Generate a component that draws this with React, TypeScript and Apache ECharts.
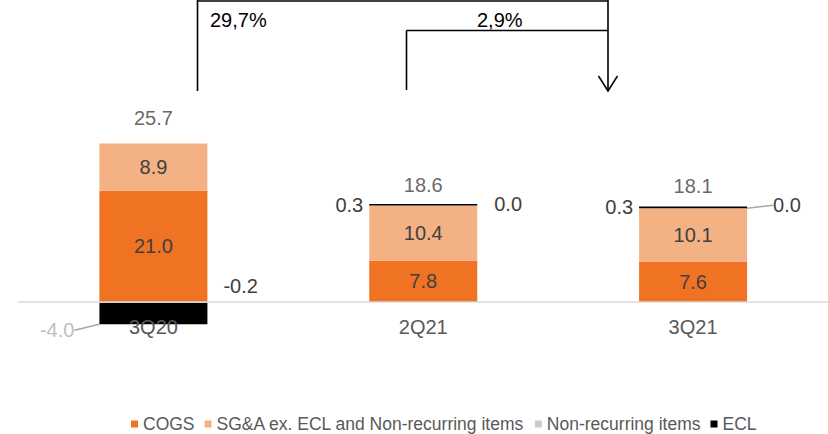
import React, { useEffect, useRef } from "react";
import * as echarts from "echarts";

const categories = ["3Q20", "2Q21", "3Q21"];
const cogs = [21.0, 7.8, 7.6];
const sga = [8.9, 10.4, 10.1];
const nonRecurring = [-0.2, 0.0, 0.0];
const ecl = [-4.0, 0.3, 0.3];
const totals = [25.7, 18.6, 18.1];
const seriesNames = ["COGS", "SG&A ex. ECL and Non-recurring items", "Non-recurring items", "ECL"];
const changeLabels = ["29,7%", "2,9%"];

const FONT = "'Liberation Sans', Arial, sans-serif";
const totalLabelDistance = [16, 9, 11];

export default function App() {
  const ref = useRef<HTMLDivElement>(null);
  useEffect(() => {
    if (!ref.current) return;
    const chart = echarts.init(ref.current, null, { renderer: "svg" });
    const posTop = categories.map((_, i) =>
      [cogs[i], sga[i], nonRecurring[i], ecl[i]].filter((v) => v > 0).reduce((a, b) => a + b, 0)
    );
    const fmt = (p: any) => Number(p.value).toFixed(1);
    const insideLabel = { show: true, position: "inside", color: "#404040", fontSize: 20, fontFamily: FONT, formatter: fmt };
    const line = (x1: number, y1: number, x2: number, y2: number) => ({
      type: "line",
      shape: { x1, y1, x2, y2 },
      style: { stroke: "#000", lineWidth: 1.6 },
    });
    chart.setOption({
      animation: false,
      textStyle: { fontFamily: FONT },
      grid: { left: 18.5, right: -3.5, top: 90, bottom: 79 },
      legend: {
        data: seriesNames,
        left: 126,
        top: 410,
        itemWidth: 7,
        itemHeight: 7,
        itemGap: 10,
        icon: "rect",
        textStyle: { color: "#595959", fontSize: 17.5, fontFamily: FONT },
      },
      xAxis: {
        type: "category",
        data: categories,
        z: 5,
        axisLine: { onZero: true, lineStyle: { color: "#d9d9d9", width: 1.5 } },
        axisTick: { show: false },
        axisLabel: { color: "#595959", fontSize: 20, margin: -38, fontFamily: FONT },
      },
      yAxis: { type: "value", min: -10, max: 40, show: false, splitLine: { show: false } },
      series: [
        {
          name: seriesNames[0],
          type: "bar",
          stack: "t",
          barWidth: 108,
          data: cogs,
          itemStyle: { color: "#f07323" },
          label: insideLabel,
        },
        {
          name: seriesNames[1],
          type: "bar",
          stack: "t",
          data: sga,
          itemStyle: { color: "#f4b183" },
          label: insideLabel,
        },
        {
          name: seriesNames[2],
          type: "bar",
          stack: "t",
          data: nonRecurring.map((v, i) => ({ value: v, labelLine: { show: i === 2 } })),
          itemStyle: { color: "#c9c9c9" },
          label: { show: true, position: "right", color: "#404040", fontSize: 20, fontFamily: FONT, formatter: fmt },
          labelLine: { show: true, lineStyle: { color: "#a6a6a6", width: 1.5 } },
          labelLayout: (p: any) => {
            const r = p.rect;
            if (p.dataIndex === 0) return { x: r.x + r.width + 16, y: r.y - 16, align: "left", verticalAlign: "middle" };
            if (p.dataIndex === 1) return { x: r.x + r.width + 17, y: r.y - 2, align: "left", verticalAlign: "middle" };
            return { x: r.x + r.width + 26, y: r.y - 3, align: "left", verticalAlign: "middle" };
          },
        },
        {
          name: seriesNames[3],
          type: "bar",
          stack: "t",
          data: ecl.map((v, i) => ({
            value: v,
            labelLine: { show: i === 0 },
            label: i === 0 ? { color: "#bfbfbf" } : { color: "#404040" },
          })),
          itemStyle: { color: "#000000" },
          label: { show: true, position: "left", distance: 6, fontSize: 20, fontFamily: FONT, formatter: fmt },
          labelLine: { show: true, lineStyle: { color: "#a6a6a6", width: 1.5 } },
          labelLayout: (p: any) => {
            const r = p.rect;
            if (p.dataIndex === 0) return { x: r.x - 25, y: r.y + r.height + 6, align: "right", verticalAlign: "middle" };
            return {};
          },
        },
        {
          name: "Total",
          type: "scatter",
          symbolSize: 0,
          data: posTop.map((v, i) => ({ value: [categories[i], v], label: { distance: totalLabelDistance[i] } })),
          label: {
            show: true,
            position: "top",
            color: "#404040",
            fontSize: 20,
            fontFamily: FONT,
            formatter: (p: any) => totals[p.dataIndex].toFixed(1),
          },
          z: 6,
        },
      ],
      graphic: [
        line(197.5, 0, 197.5, 91),
        line(197.5, 1, 608, 1),
        line(608, 0, 608, 90),
        { type: "polyline", shape: { points: [[598.5, 76], [608, 91], [617.5, 76]] }, style: { stroke: "#000", lineWidth: 1.6, fill: null } },
        line(406.5, 90, 406.5, 30.5),
        line(406.5, 30.5, 608, 30.5),
        { type: "text", x: 210, y: 20, style: { text: changeLabels[0], fill: "#000", fontSize: 20, fontFamily: FONT, verticalAlign: "middle", align: "left" } },
        { type: "text", x: 477, y: 20, style: { text: changeLabels[1], fill: "#000", fontSize: 20, fontFamily: FONT, verticalAlign: "middle", align: "left" } },
      ],
    });
    return () => chart.dispose();
  }, []);
  return <div ref={ref} style={{ position: "absolute", left: 0, top: 0, width: 828, height: 434, background: "#fff" }} />;
}
